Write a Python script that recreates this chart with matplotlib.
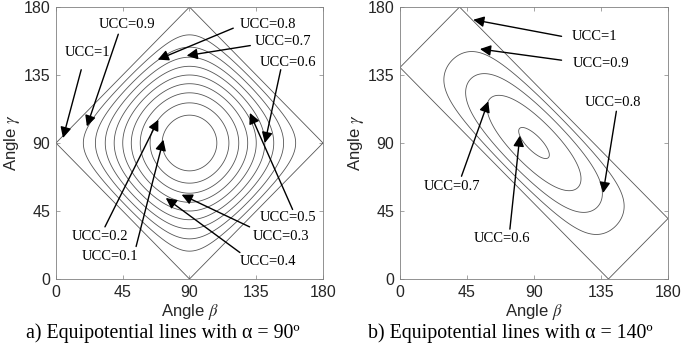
import numpy as np
import matplotlib.pyplot as plt

plt.rcParams["mathtext.fontset"] = "stix"

# angle alpha of each panel (deg) and the contour levels drawn in it
alphas = [90, 140]
levels_a = [0.1, 0.2, 0.3, 0.4, 0.5, 0.6, 0.7, 0.8, 0.9]
levels_b = [0.6, 0.7, 0.8, 0.9]
ticks = [0, 45, 90, 135, 180]
captions = ["a) Equipotential lines with \u03b1 = 90\u00ba",
            "b) Equipotential lines with \u03b1 = 140\u00ba"]

# labels: text, text position, arrow tail, arrow tip (beta, gamma in deg)
labels_a = ["UCC=1", "UCC=0.9", "UCC=0.8", "UCC=0.7", "UCC=0.6",
            "UCC=0.5", "UCC=0.3", "UCC=0.4", "UCC=0.2", "UCC=0.1"]
text_a = [(21.3, 149.6), (47.7, 168.3), (143.0, 168.3), (153.1, 157.3), (156.5, 143.0),
          (156.5, 40.4), (152.0, 28.2), (143.0, 11.7), (29.8, 28.2), (36.5, 15.0)]
tail_a = [(17.0, 138.5), (42.0, 162.0), (119.5, 166.0), (131.0, 154.5), (151.5, 138.5),
          (159.5, 46.0), (130.5, 34.5), (124.0, 17.5), (33.0, 34.5), (54.0, 21.5)]
tip_a = [(4.7, 93.3), (20.8, 101.0), (68.6, 145.2), (88.1, 147.8), (140.8, 90.0),
         (130.7, 109.9), (84.7, 55.8), (74.0, 53.6), (69.0, 105.4), (72.4, 92.2)]

labels_b = ["UCC=1", "UCC=0.9", "UCC=0.8", "UCC=0.7", "UCC=0.6"]
text_b = [(130.8, 160.6), (135.3, 142.9), (143.1, 116.5), (34.7, 61.3), (68.2, 27.1)]
tail_b = [(108.5, 160.6), (108.5, 144.8), (145.3, 111.0), (41.3, 68.0), (73.8, 33.0)]
tip_b = [(49.2, 171.6), (53.7, 152.2), (136.4, 56.9), (59.3, 117.6), (80.5, 94.9)]


def ucc(alpha, b, g):
    ca, cb, cg = np.cos(np.radians(alpha)), np.cos(np.radians(b)), np.cos(np.radians(g))
    return ca**2 + cb**2 + cg**2 - 2 * ca * cb * cg


fig = plt.figure(figsize=(6.82, 3.56), dpi=100)
axes = [fig.add_axes([0.0821, 0.2163, 0.3915, 0.764]),
        fig.add_axes([0.5865, 0.2163, 0.393, 0.764])]

beta = np.linspace(0, 180, 721)
B, G = np.meshgrid(beta, beta)
serif = ["Liberation Serif", "DejaVu Serif"]

for ax, alpha, levels, labels, texts, tails, tips, cap, cx in zip(
        axes, alphas, [levels_a, levels_b], [labels_a, labels_b],
        [text_a, text_b], [tail_a, tail_b], [tip_a, tip_b], captions, [0.238, 0.748]):
    Z = ucc(alpha, B, G)
    ax.contour(B, G, Z, levels=levels, colors="#555555", linewidths=0.6)
    # feasible-region border (UCC = 1)
    ax.plot([0, 180 - alpha, 180, alpha, 0], [alpha, 180, 180 - alpha, 0, alpha],
            color="#555555", lw=0.6)

    for lab, t, tl, tp in zip(labels, texts, tails, tips):
        ax.annotate("", xy=tp, xytext=tl,
                    arrowprops=dict(arrowstyle="-|>", color="black", lw=1.0,
                                    mutation_scale=16, shrinkA=0, shrinkB=0))
        ax.text(t[0], t[1], lab, ha="center", va="center", fontsize=10.5, family=serif)

    ax.set_xlim(0, 180)
    ax.set_ylim(0, 180)
    ax.set_xticks(ticks)
    ax.set_yticks(ticks)
    ax.tick_params(direction="in", length=3, width=0.5, color="#808080",
                   labelsize=11.5, labelcolor="#262626", pad=4, top=True, right=True,
                   labeltop=False, labelright=False)
    for lbl in ax.get_xticklabels() + ax.get_yticklabels():
        lbl.set_family("Liberation Sans")
    for s in ax.spines.values():
        s.set_color("#808080")
        s.set_linewidth(0.6)
    ax.set_xlabel(r"Angle $\beta$", fontsize=12, family="Liberation Sans", color="#262626", labelpad=2)
    ax.set_ylabel(r"Angle $\gamma$", fontsize=12, family="Liberation Sans", color="#262626", labelpad=1)
    fig.text(cx, 0.065, cap, ha="center", va="center", fontsize=14.3, family=serif)

fig.savefig("out.png", dpi=100)
